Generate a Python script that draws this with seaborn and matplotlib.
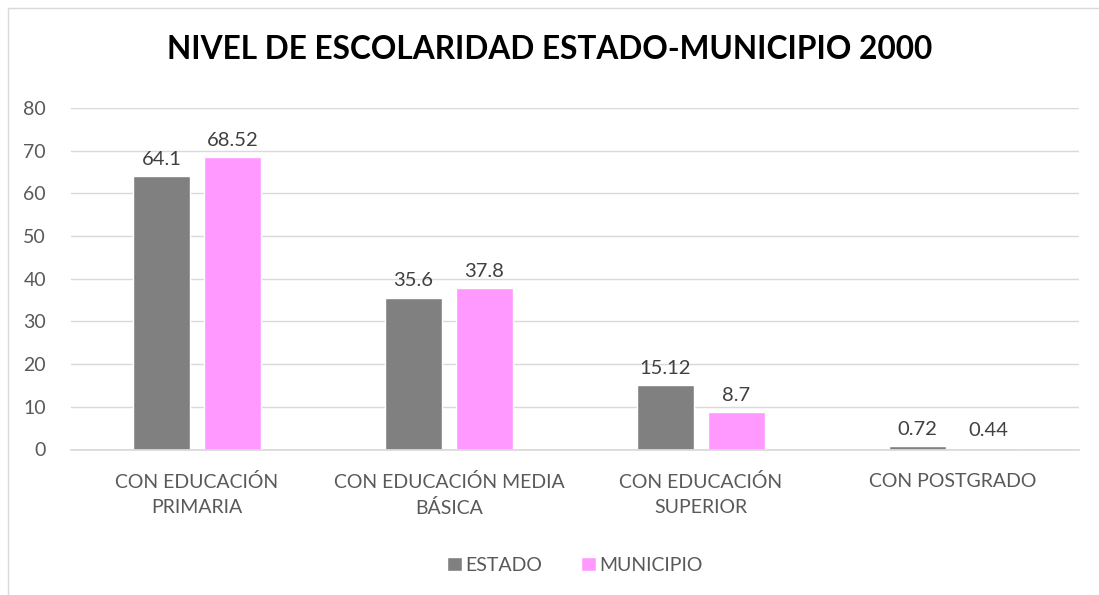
import matplotlib
matplotlib.use("Agg")
import matplotlib.pyplot as plt
import seaborn as sns
import pandas as pd
from matplotlib.patches import Rectangle

## Data
categorias = ["CON EDUCACIÓN\nPRIMARIA", "CON EDUCACIÓN MEDIA\nBÁSICA",
              "CON EDUCACIÓN\nSUPERIOR", "CON POSTGRADO"]
estado = [64.1, 35.6, 15.12, 0.72]
municipio = [68.52, 37.8, 8.7, 0.44]
etiquetas_estado = ["64.1", "35.6", "15.12", "0.72"]
etiquetas_municipio = ["68.52", "37.8", "8.7", "0.44"]
series = ["ESTADO", "MUNICIPIO"]
colores = ["#808080", "#FF99FF"]

df = pd.DataFrame({
    "categoria": categorias * 2,
    "valor": estado + municipio,
    "serie": [series[0]] * 4 + [series[1]] * 4,
})

sns.set_theme(style="white")
plt.rcParams['font.family'] = ['Lato', 'DejaVu Sans']

fig = plt.figure(figsize=(10.99, 5.95), dpi=100)
ax = fig.add_axes([71 / 1099, 1 - 449.5 / 595, 1008 / 1099, 341.5 / 595])

sns.barplot(data=df, x="categoria", y="valor", hue="serie", palette=colores,
            width=0.563, gap=0.197, ax=ax, saturation=1, legend=True)

# value labels
for cont, labs in zip(ax.containers, [etiquetas_estado, etiquetas_municipio]):
    ax.bar_label(cont, labels=labs, padding=6, fontsize=14.5, color="#404040")

ax.set_ylim(0, 80)
ax.set_yticks(range(0, 81, 10))
ax.set_xlim(-0.5, 3.5)
ax.yaxis.grid(True, color="#D9D9D9", linewidth=1)
ax.set_axisbelow(True)
for s in ["top", "right", "left"]:
    ax.spines[s].set_visible(False)
ax.spines["bottom"].set_color("#D9D9D9")
ax.tick_params(axis="both", length=0, labelsize=14, colors="#595959")
ax.tick_params(axis="x", pad=17)
ax.tick_params(axis="y", pad=18)
for lab in ax.get_xticklabels():
    lab.set_linespacing(1.55)
ax.set_xlabel("")
ax.set_ylabel("")

leg = ax.legend(loc="center", bbox_to_anchor=(0.5, -0.34), ncol=2, frameon=False,
                fontsize=14, handlelength=0.75, handleheight=0.75,
                handletextpad=0.2, columnspacing=2.0)
for t in leg.get_texts():
    t.set_color("#595959")

fig.text(0.5, 0.916, "NIVEL DE ESCOLARIDAD ESTADO-MUNICIPIO 2000", ha="center",
         va="center", fontsize=22.8, fontweight="bold", color="#000000")

fig.patches.append(Rectangle((8 / 1099, -0.1), 1.2, 1 - 8 / 595 + 0.1,
                             transform=fig.transFigure, fill=False,
                             edgecolor="#D9D9D9", linewidth=1))

fig.savefig("out.png", dpi=100)
